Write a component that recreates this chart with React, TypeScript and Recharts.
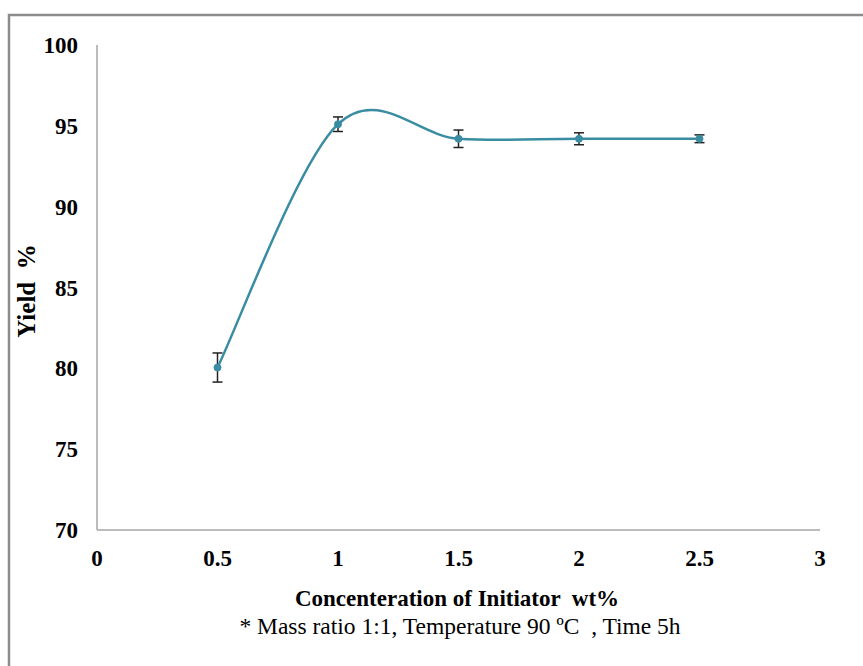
import React from 'react';
import { LineChart, Line, XAxis, YAxis, ErrorBar } from 'recharts';

const concentrations = [0.5, 1, 1.5, 2, 2.5];
const yieldValues = [80.05, 95.1, 94.2, 94.2, 94.2];
const yieldErrors = [0.9, 0.45, 0.54, 0.37, 0.24];
const xTicks = [0, 0.5, 1, 1.5, 2, 2.5, 3];
const yTicks = [70, 75, 80, 85, 90, 95, 100];

const xTitle = 'Concenteration of Initiator  wt%';
const yTitle = 'Yield  %';
const note = '* Mass ratio 1:1, Temperature 90 ºC  , Time 5h';

const data = concentrations.map((x, i) => ({ x, y: yieldValues[i], err: yieldErrors[i] }));

// Excel-like smoothed line (Catmull-Rom to Bezier)
function excelCurve(context: any) {
  let pts: number[][] = [];
  return {
    areaStart() {},
    areaEnd() {},
    lineStart() { pts = []; },
    point(x: number, y: number) { pts.push([+x, +y]); },
    lineEnd() {
      if (!pts.length) return;
      context.moveTo(pts[0][0], pts[0][1]);
      for (let i = 0; i < pts.length - 1; i++) {
        const p0 = pts[i - 1] || pts[i];
        const p1 = pts[i];
        const p2 = pts[i + 1];
        const p3 = pts[i + 2] || pts[i + 1];
        context.bezierCurveTo(
          p1[0] + (p2[0] - p0[0]) / 6,
          p1[1] + (p2[1] - p0[1]) / 6,
          p2[0] - (p3[0] - p1[0]) / 6,
          p2[1] - (p3[1] - p1[1]) / 6,
          p2[0],
          p2[1]
        );
      }
    },
  };
}

const font = 'Liberation Serif';
const tickStyle = { fontFamily: font, fontWeight: 700, fontSize: 23, fill: '#000' };
const lineColor = '#3A8CA2';

export default function App() {
  return (
    <div style={{ position: 'absolute', left: 0, top: 0, width: 863, height: 666, overflow: 'hidden', background: '#fff' }}>
      <LineChart
        width={863}
        height={666}
        data={data}
        margin={{ top: 45, right: 43, bottom: 106, left: 0 }}
      >
        <XAxis
          type="number"
          dataKey="x"
          domain={[0, 3]}
          ticks={xTicks}
          interval={0}
          axisLine={{ stroke: '#a6a6a6', strokeWidth: 1.5 }}
          tickLine={false}
          tickSize={0}
          tickMargin={20}
          height={30}
          tick={tickStyle}
        />
        <YAxis
          type="number"
          domain={[70, 100]}
          ticks={yTicks}
          interval={0}
          axisLine={{ stroke: '#a6a6a6', strokeWidth: 1.5 }}
          tickLine={false}
          tickSize={0}
          tickMargin={19}
          width={97}
          tick={tickStyle}
        />
        <Line
          dataKey="y"
          type={excelCurve as any}
          stroke={lineColor}
          strokeWidth={2.5}
          dot={{ r: 3.5, fill: lineColor, stroke: lineColor, strokeWidth: 1 }}
          isAnimationActive={false}
        >
          <ErrorBar dataKey="err" width={5} stroke="#222" strokeWidth={1.5} isAnimationActive={false} />
        </Line>
      </LineChart>
      <svg
        width={863}
        height={666}
        style={{ position: 'absolute', left: 0, top: 0, pointerEvents: 'none' }}
      >
        <rect x={9} y={15} width={900} height={700} fill="none" stroke="#8c8c8c" strokeWidth={2.5} />
        <text
          x={35}
          y={291}
          transform="rotate(-90 35 291)"
          textAnchor="middle"
          fontFamily={font}
          fontWeight={700}
          fontSize={25}
          fill="#000"
          style={{ whiteSpace: 'pre' }}
        >
          {yTitle}
        </text>
        <text
          x={457}
          y={606}
          textAnchor="middle"
          fontFamily={font}
          fontWeight={700}
          fontSize={23}
          fill="#000"
          style={{ whiteSpace: 'pre' }}
        >
          {xTitle}
        </text>
        <text
          x={460}
          y={634}
          textAnchor="middle"
          fontFamily={font}
          fontSize={23.5}
          fill="#000"
          style={{ whiteSpace: 'pre' }}
        >
          {note}
        </text>
      </svg>
    </div>
  );
}
